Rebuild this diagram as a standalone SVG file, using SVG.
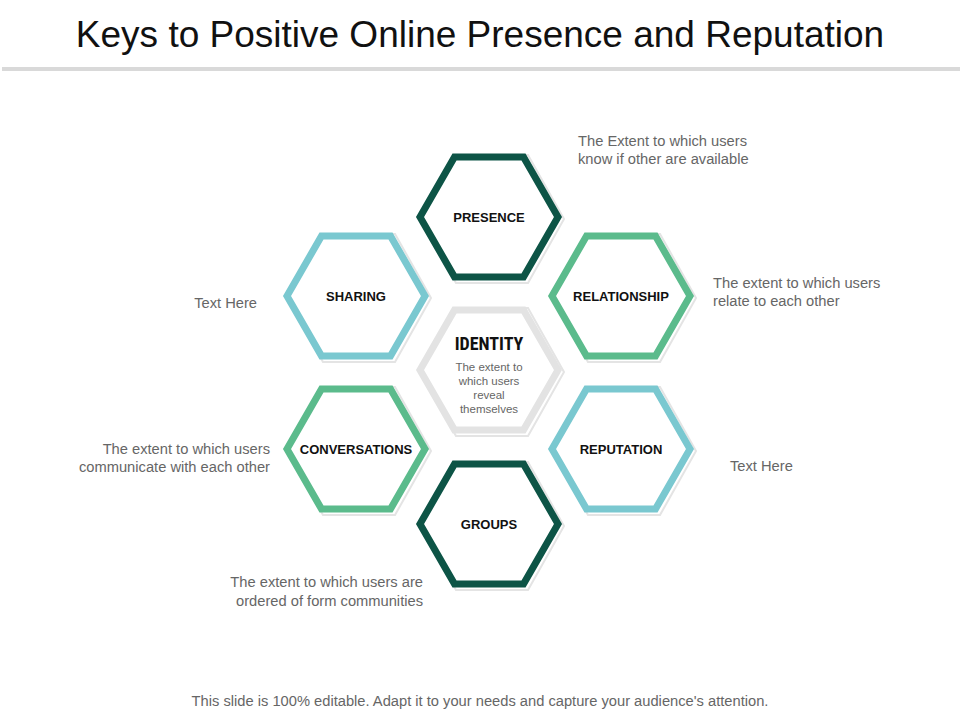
<svg xmlns="http://www.w3.org/2000/svg" width="960" height="720" viewBox="0 0 960 720">
<defs>
<style>
.sh{fill:#fff;stroke:#e4e4e4;stroke-width:2}
.hx{fill:#fff;stroke-width:7;stroke-linejoin:miter}
.lb{font-family:"Liberation Sans",Arial,sans-serif;font-size:13px;font-weight:bold;fill:#111;text-anchor:middle}
.ds{font-family:"Liberation Sans",Arial,sans-serif;font-size:14.7px;fill:#666}
</style>
<path id="h" d="M-69,0 L-34.5,-60 L34.5,-60 L69,0 L34.5,60 L-34.5,60 Z"/>
<path id="hs" d="M-72,0 L-36,-64 L36,-64 L72,0 L36,64 L-36,64 Z"/>
</defs>
<rect width="960" height="720" fill="#fff"/>
<text x="480" y="47" font-family="Liberation Sans,Arial,sans-serif" font-size="37" text-anchor="middle" fill="#111">Keys to Positive Online Presence and Reputation</text>
<rect x="2" y="67" width="958" height="4" fill="#d9d9d9"/>
<g id="identity">
<use href="#hs" class="sh" x="492" y="372"/>
<use href="#h" x="489" y="370" class="hx" stroke="#e3e3e3"/>
<text x="489" y="350" font-family="Roboto Condensed,Liberation Sans Narrow,Liberation Sans,sans-serif" font-size="18" font-weight="bold" text-anchor="middle" fill="#111">IDENTITY</text>
<text font-family="Liberation Sans,Arial,sans-serif" font-size="11.5" fill="#666" text-anchor="middle"><tspan x="489" y="371">The extent to</tspan><tspan x="489" y="385">which users</tspan><tspan x="489" y="399">reveal</tspan><tspan x="489" y="413">themselves</tspan></text>
</g>
<g id="presence"><use href="#hs" class="sh" x="492" y="219"/><use href="#h" x="489" y="217" class="hx" stroke="#0d5446"/><text class="lb" x="489" y="222">PRESENCE</text></g>
<g id="relationship"><use href="#hs" class="sh" x="624" y="298"/><use href="#h" x="621" y="296" class="hx" stroke="#5bbb8c"/><text class="lb" x="621" y="301">RELATIONSHIP</text></g>
<g id="sharing"><use href="#hs" class="sh" x="359" y="298"/><use href="#h" x="356" y="296" class="hx" stroke="#7ac8d0"/><text class="lb" x="356" y="301">SHARING</text></g>
<g id="conversations"><use href="#hs" class="sh" x="359" y="451"/><use href="#h" x="356" y="449" class="hx" stroke="#5bbb8c"/><text class="lb" x="356" y="454">CONVERSATIONS</text></g>
<g id="reputation"><use href="#hs" class="sh" x="624" y="451"/><use href="#h" x="621" y="449" class="hx" stroke="#7ac8d0"/><text class="lb" x="621" y="454">REPUTATION</text></g>
<g id="groups"><use href="#hs" class="sh" x="492" y="526"/><use href="#h" x="489" y="524" class="hx" stroke="#0d5446"/><text class="lb" x="489" y="529">GROUPS</text></g>
<g id="connectors"></g>
<text class="ds"><tspan x="578" y="146">The Extent to which users</tspan><tspan x="578" y="164">know if other are available</tspan></text>
<text class="ds"><tspan x="713" y="288">The extent to which users</tspan><tspan x="713" y="306">relate to each other</tspan></text>
<text class="ds" x="257" y="308" text-anchor="end">Text Here</text>
<text class="ds" text-anchor="end"><tspan x="270" y="454">The extent to which users</tspan><tspan x="270" y="472">communicate with each other</tspan></text>
<text class="ds" x="730" y="471">Text Here</text>
<text class="ds" text-anchor="end"><tspan x="423" y="587">The extent to which users are</tspan><tspan x="423" y="606">ordered of form communities</tspan></text>
<text class="ds" x="480" y="706" text-anchor="middle">This slide is 100% editable. Adapt it to your needs  and capture your audience's attention.</text>
</svg>
